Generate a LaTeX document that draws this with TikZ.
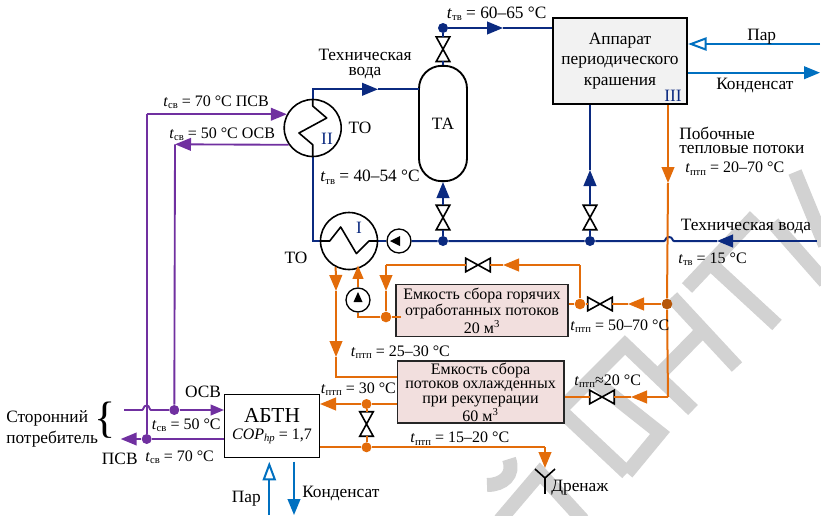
\documentclass[tikz,border=0pt]{standalone}
\usepackage{fontspec}
\setmainfont{Liberation Serif}
\usepackage{tikz}
\usetikzlibrary{arrows.meta}

\definecolor{navyline}{HTML}{0B2A80}
\definecolor{orangeline}{HTML}{E36C0A}
\definecolor{purpleline}{HTML}{7030A0}
\definecolor{steamblue}{HTML}{0070C0}
\definecolor{tankpink}{HTML}{F2DFDE}
\definecolor{wmgray}{HTML}{D2D2D2}

\tikzset{
  lab/.style={anchor=base west,inner sep=0pt,font=\fontsize{13}{13}\selectfont},
  labt/.style={anchor=base west,inner sep=0pt,font=\fontsize{12}{12}\selectfont},
  labc/.style={anchor=base,inner sep=0pt,font=\fontsize{13}{13}\selectfont},
  navyl/.style={navyline,line width=1.5pt},
  orl/.style={orangeline,line width=1.5pt},
  purl/.style={purpleline,line width=1.4pt},
  steaml/.style={steamblue,line width=1.5pt},
  tip/.style={-{Triangle[length=12pt,width=9.5pt]}},
  tipsm/.style={-{Triangle[length=10pt,width=8pt]}},
  tipopen/.style={-{Triangle[open,length=14pt,width=10pt,fill=white]}},
  dotn/.style={circle,inner sep=0pt,minimum size=7.5pt,fill=#1},
  exch/.style={circle,draw=black,line width=1.2pt,fill=white,inner sep=0pt,minimum size=42.75pt},
  pumpc/.style={circle,draw=black,line width=1pt,fill=white,inner sep=0pt,minimum size=18pt},
  valvebox/.style={inner sep=0pt},
  valveline/.style={draw=black,line width=1.2pt,fill=white},
  tank/.style={draw=black!85,line width=1pt,fill=tankpink,inner sep=0pt,align=center,
    font=\fontsize{12}{10.9}\selectfont},
  wm/.style={wmgray,line width=10.5pt}
}

\newcommand{\valveh}[3]{
  \node[valvebox,minimum width=18pt,minimum height=9.75pt] (#1) at (#2,#3) {};
  \draw[valveline] (#1.north west) -- (#1.south west) -- (#1.north east) -- (#1.south east) -- cycle;
}
\newcommand{\valvev}[3]{
  \node[valvebox,minimum width=9.75pt,minimum height=18pt] (#1) at (#2,#3) {};
  \draw[valveline] (#1.north west) -- (#1.north east) -- (#1.south west) -- (#1.south east) -- cycle;
}
\newcommand{\tsub}[1]{\textit{t}\raisebox{-0.35ex}{\fontsize{8}{8}\selectfont #1}}

\begin{document}
\begin{tikzpicture}[x=0.75pt,y=-0.75pt]
  \useasboundingbox (0,0) rectangle (821,515);

  % watermark
  \begin{scope}
    \clip (0,0) rectangle (821,515);
    \draw[wm] (487,485) .. controls (503,485) and (515,475) .. (509,459);
    \draw[wm,line join=miter] (500,520) -- (540,473) -- (583,520);
    \draw[wm,line join=miter] (627,473) -- (560,410) -- (625,345) -- (693,410);
    \draw[wm,line join=miter] (593,380) -- (660,433) -- (627,473);
    \draw[wm] (672,297) -- (737,367);
    \draw[wm] (657,377) -- (703,330);
    \draw[wm] (687,288) -- (755,216);
    \draw[wm] (712,265) -- (777,325);
    \draw[wm] (795,172) -- (825,245);
    \draw[wm] (773,223) -- (825,282);
  \end{scope}

  % equipment
  \node[exch] (heII) at (312.7,128) {};
  \node[exch] (heI) at (349,241) {};
  \node[pumpc] (pumpA) at (399,241) {};
  \node[pumpc] (pumpB) at (358,300) {};
  \node[draw=black,line width=1.4pt,fill=white,inner sep=0pt,minimum width=36pt,minimum height=86.5pt,
    rounded corners=17pt,font=\fontsize{13}{13}\selectfont] (ta) at (443,123.5) {ТА};
  \node[draw=black,line width=1.6pt,fill=black!5,inner sep=0pt,minimum width=100.5pt,minimum height=65pt,
    align=center,font=\fontsize{13}{15.4}\selectfont] (appar) at (620,61) {Аппарат\\периодического\\крашения};
  \node[tank,minimum width=128.8pt,minimum height=39.3pt] (tankA) at (482,310.5)
    {Емкость сбора горячих\\отработанных потоков\\20 м\textsuperscript{3}};
  \node[tank,minimum width=125pt,minimum height=46.3pt] (tankB) at (480.5,392)
    {Емкость сбора\\потоков охлажденных\\при рекуперации\\60 м\textsuperscript{3}};
  \node[draw=black,line width=1pt,fill=white,inner sep=0pt,minimum width=71pt,minimum height=46.8pt,
    align=center] (abtn) at (272,426)
    {{\fontsize{16}{16}\selectfont АБТН}\\[1pt]{\fontsize{12}{12}\selectfont\textit{COP}\raisebox{-0.3ex}{\fontsize{8}{8}\selectfont\textit{hp}} = 1,7}};

  % junctions
  \node[dotn=navyline] (dTop) at (443,28) {};
  \node[dotn=navyline] (dTa) at (443,241) {};
  \node[dotn=navyline] (dAp) at (590,241) {};
  \node[dotn=orangeline,minimum size=8pt] (dHot) at (580,304) {};
  \node[dotn=orangeline!80!black,minimum size=8pt] (dSide) at (667,304) {};
  \node[dotn=orangeline,minimum size=8pt] (dTankA) at (386,317) {};
  \node[dotn=orangeline] (dCold) at (366.5,404) {};
  \node[dotn=orangeline] (dDrain) at (366.5,447.3) {};
  \node[dotn=purpleline] (dPsv) at (146.7,439) {};
  \node[dotn=purpleline] (dOsv) at (174.3,410) {};

  % valves
  \valvev{vTop}{443}{49.2}
  \valvev{vTa}{443}{217.5}
  \valvev{vAp}{590}{217.5}
  \valveh{vRing}{478}{265}
  \valveh{vHot}{600}{304}
  \valveh{vCold}{602}{397}
  \valvev{vDrain}{366.5}{424}

  % water circuit
  \coordinate (tipTop) at (503,28);
  \coordinate (tipTa) at (443,182);
  \coordinate (tipAp) at (590,170);
  \coordinate (tipRiver) at (717,241);
  \coordinate (riverEnd) at (817,241);
  \coordinate (tipVoda) at (378,89.3);
  \coordinate (taIn) at (419,89.3);
  \draw[navyl,tip] (riverEnd) -- (tipRiver);
  \draw[navyl] (tipRiver) -- (674,241) .. controls (672,241) and (673,237) .. (669,237)
    .. controls (665,237) and (666,241) .. (664,241) -- (dAp) -- (dTa) -- (pumpA.east);
  \draw[navyl] (pumpA.west) -- (heI.east);
  \draw[navyl] (heI.west) -- (heI.west -| heII.south) -- (heII.south);
  \draw[navyl,tip] (heII.north) -- (heII.north |- tipVoda) -- (tipVoda);
  \draw[navyl] (tipVoda) -- (taIn);
  \draw[navyl] (dTa) -- (vTa.south);
  \draw[navyl,tip] (vTa.north) -- (tipTa);
  \draw[navyl] (ta.north) -- (vTop.south);
  \draw[navyl] (vTop.north) -- (dTop);
  \draw[navyl,tip] (dTop) -- (tipTop);
  \draw[navyl] (tipTop) -- (tipTop -| appar.west);
  \draw[navyl] (dAp) -- (vAp.south);
  \draw[navyl,tip] (vAp.north) -- (tipAp);
  \draw[navyl] (tipAp) -- (tipAp |- appar.south);

  % exchanger coils
  \draw[line width=1.2pt,line join=round] (heII.north) -- ++(0,7.3) -- ++(14,12) -- ++(-27.7,15) -- ++(13.7,11.7) -- (heII.south);
  \draw[line width=1.2pt,line join=round] (heI.west) -- ++(10,0) -- ++(11,-14) -- ++(15.7,26.6) -- ++(12.6,-12.6) -- (heI.east);
  \fill (pumpA.center) ++(-9,0) -- ++(10,-5) -- ++(0,10) -- cycle;
  \fill (pumpB.center) ++(0,-8) -- ++(4.5,10) -- ++(-9,0) -- cycle;

  % side flows
  \coordinate (tipSide) at (668,183);
  \coordinate (tipHot) at (628,304);
  \coordinate (tipRing) at (503,265);
  \coordinate (ringR) at (580,265);
  \coordinate (ringL) at (386,265);
  \coordinate (tipFall) at (386,291);
  \coordinate (tipLower) at (631,397);
  \coordinate (tipPump) at (358,265.5);
  \coordinate (tipOutA) at (336,291);
  \coordinate (tipOutB) at (336,357);
  \coordinate (outCorner) at (336,376.7);
  \coordinate (tipAbtn) at (320,404);
  \coordinate (drainCorner) at (545,447.3);
  \coordinate (tipDrain) at (545,468);
  \coordinate (sideCorner) at (668,397);
  \draw[orl,tip] (tipSide |- appar.south) -- (tipSide);
  \draw[orl] (tipSide) -- (dSide);
  \draw[orl] (dSide) -- (sideCorner);
  \draw[orl,tip] (dSide) -- (tipHot);
  \draw[orl] (tipHot) -- (vHot.east);
  \draw[orl] (vHot.west) -- (dHot) -- (tankA.east |- dHot);
  \draw[orl] (dHot) -- (ringR);
  \draw[orl,tip] (ringR) -- (tipRing);
  \draw[orl] (tipRing) -- (vRing.east);
  \draw[orl] (vRing.west) -- (ringL);
  \draw[orl,tip] (ringL) -- (tipFall);
  \draw[orl] (tipFall) -- (dTankA);
  \draw[orl] (401,317) -- (dTankA) -- (pumpB.south |- dTankA) -- (pumpB.south);
  \draw[orl,tipsm] (pumpB.north) -- (tipPump);
  \draw[orl,tip] (heI.243) -- (tipOutA);
  \draw[orl,tip] (tipOutA) -- (tipOutB);
  \draw[orl] (tipOutB) -- (outCorner) -- (outCorner -| tankB.west);
  \draw[orl,tip] (sideCorner) -- (tipLower);
  \draw[orl] (tipLower) -- (vCold.east);
  \draw[orl] (vCold.west) -- (tankB.east |- vCold);
  \draw[orl] (tankB.west |- dCold) -- (dCold);
  \draw[orl,tip] (dCold) -- (tipAbtn);
  \draw[orl] (dCold) -- (vDrain.north);
  \draw[orl] (vDrain.south) -- (dDrain);
  \draw[orl] (dDrain -| abtn.east) -- (dDrain) -- (drainCorner);
  \draw[orl,tip] (drainCorner) -- (tipDrain);

  % drain
  \coordinate (drainY) at (545,478);
  \draw[line width=1.2pt] (535,469) -- (drainY) -- (555,469);
  \draw[line width=1.2pt] (drainY) -- (545,494);

  % heating water
  \coordinate (tipPsvOut) at (120.7,439);
  \coordinate (osvEnd) at (124,410);
  \coordinate (tipOsvBack) at (175,144.3);
  \draw[purl,tip] (dPsv |- heII.152) -- (heII.152);
  \draw[purl] (dPsv) -- (dPsv |- heII.152);
  \draw[purl] (abtn.west |- dPsv) -- (dPsv);
  \draw[purl,tip] (dPsv) -- (tipPsvOut);
  \draw[purl,tip] (heII.215) -- (tipOsvBack);
  \draw[purl] (tipOsvBack) -- (dOsv);
  \draw[purl] (osvEnd) -- (142,410) .. controls (144,410) and (143,405.5) .. (146.7,405.5)
    .. controls (150,405.5) and (149,410) .. (151,410) -- (dOsv);
  \draw[purl,tipsm] (dOsv) -- (dOsv -| abtn.west);

  % steam
  \coordinate (parEnd) at (820,44);
  \coordinate (kondEnd) at (820,72.7);
  \coordinate (parLow) at (269.3,515);
  \coordinate (parTip) at (269.3,461.7);
  \coordinate (kondTop) at (294,461.7);
  \coordinate (kondLow) at (294,515);
  \draw[steaml,tipopen] (parEnd) -- (parEnd -| appar.east);
  \draw[steaml,tip] (appar.east |- kondEnd) -- (kondEnd);
  \draw[steaml,tipopen] (parLow) -- (parTip);
  \draw[steaml,tip] (kondTop) -- (kondLow);

  % labels
  \node[lab] (lTop) at (446.7,18) {\tsub{тв} = 60–65 °C};
  \node[inner sep=0pt,align=center,font=\fontsize{13}{11.2}\selectfont] (lVoda) at (365,64) {Техническая\\вода};
  \node[labt] (lPsvUp) at (163,106) {\tsub{св} = 70 °C ПСВ};
  \node[labt] (lOsvUp) at (169,138) {\tsub{св} = 50 °C ОСВ};
  \node[labc] (lToII) at (360,133) {ТО};
  \node[labc,navyline] (lII) at (327,144) {II};
  \node[lab] (lMid) at (320,181.7) {\tsub{тв} = 40–54 °C};
  \node[labc,navyline] (lI) at (359,233) {I};
  \node[labc] (lToI) at (296,263) {ТО};
  \node[labc,navyline] (lIII) at (673,101) {III};
  \node[lab] (lPar) at (747,40) {Пар};
  \node[lab] (lKond) at (716,89) {Конденсат};
  \node[anchor=west,inner sep=0pt,align=left,font=\fontsize{13}{10.3}\selectfont] (lPob) at (679,140.5) {Побочные\\тепловые потоки};
  \node[labt] (lSide) at (685,172.7) {\tsub{птп} = 20–70 °C};
  \node[lab] (lRiver) at (680.7,230.7) {Техническая вода};
  \node[labt] (lRiverT) at (678,263.3) {\tsub{тв} = 15 °C};
  \node[labt] (lHot) at (570,330) {\tsub{птп} = 50–70 °C};
  \node[labt] (lOut) at (350.7,356) {\tsub{птп} = 25–30 °C};
  \node[labt] (lAbtn) at (320.7,393) {\tsub{птп} = 30 °C};
  \node[labt] (lCold) at (574,385) {\tsub{птп}≈20 °C};
  \node[labt] (lDrain) at (410,442.5) {\tsub{птп} = 15–20 °C};
  \node[lab] (lDren) at (551,491) {Дренаж};
  \node[labc] (lOsv) at (203,397) {ОСВ};
  \node[labt] (lOsvT) at (151.7,429) {\tsub{св} = 50 °C};
  \node[lab] (lPsv) at (101.7,464) {ПСВ};
  \node[labt] (lPsvT) at (145,461) {\tsub{св} = 70 °C};
  \node[lab] (lParLow) at (231.7,502.7) {Пар};
  \node[lab] (lKondLow) at (302,497) {Конденсат};
  \node[lab] (lConsA) at (6,422) {Сторонний};
  \node[lab] (lConsB) at (6,443) {потребитель};
  \node[inner sep=0pt,font=\fontsize{33}{33}\selectfont] (brace) at (105,420) {\{};
\end{tikzpicture}
\end{document}
